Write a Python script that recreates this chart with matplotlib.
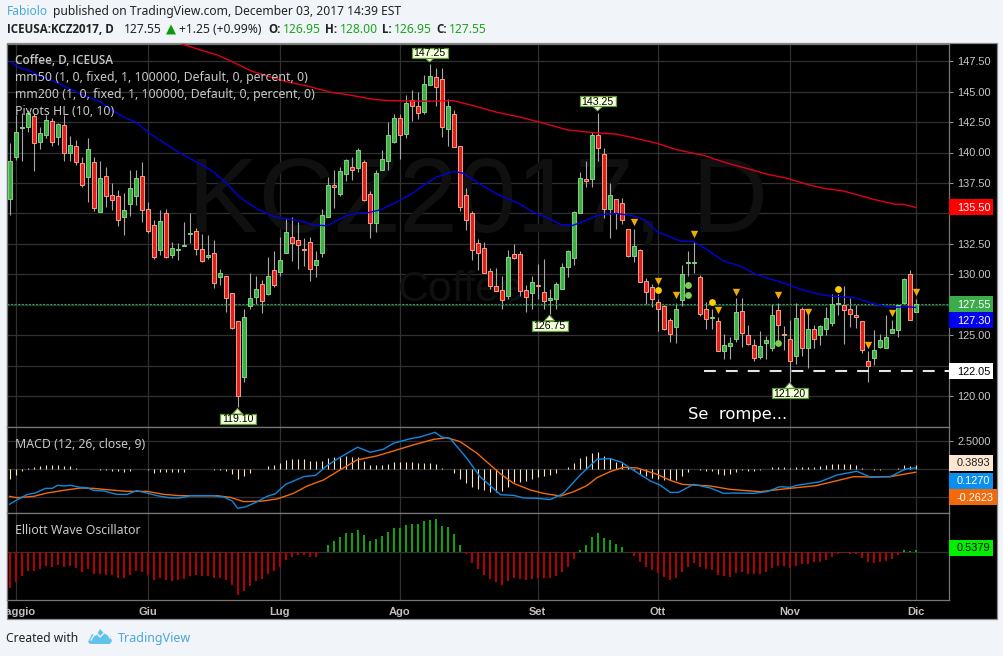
import matplotlib
matplotlib.use("Agg")
import matplotlib.pyplot as plt
from matplotlib.patches import Rectangle, Polygon
from matplotlib.transforms import Bbox, TransformedBbox, IdentityTransform

W, H = 1004, 656

opens = [136.2,139.65,142.0,142.05,143.0,140.9,141.45,142.55,141.3,142.25,
140.0,140.5,139.1,138.0,139.2,135.15,138.1,136.55,136.4,134.75,
135.8,136.45,138.1,135.4,134.05,132.0,135.0,131.6,132.0,132.3,
133.35,133.6,132.05,131.4,131.8,129.8,129.85,128.45,126.15,121.6,
127.4,128.15,129.2,128.4,130.35,130.2,131.8,133.1,132.8,132.1,
132.65,130.8,131.8,134.75,137.3,136.6,138.2,138.8,138.75,139.25,
136.6,134.25,138.6,139.3,140.9,142.8,141.55,144.3,143.8,143.3,
145.5,146.15,146.05,141.95,143.15,140.5,136.55,135.0,132.55,132.15,
130.25,129.05,128.7,128.25,131.7,131.7,128.7,128.5,129.1,128.6,
127.95,128.0,128.85,130.65,131.35,135.05,137.85,137.8,141.4,139.85,
135.4,136.2,135.85,133.7,131.55,132.0,129.5,128.95,127.75,127.4,
126.25,125.7,127.95,130.95,130.95,129.8,127.2,126.4,126.15,123.75,
124.15,124.7,127.0,125.05,124.25,123.25,124.4,124.0,127.05,125.1,
124.75,123.35,127.15,123.95,125.5,125.05,125.5,126.05,127.55,127.5,
127.15,126.7,126.15,122.95,123.15,124.05,124.0,125.2,125.45,127.65,
130.0,126.95]
closes = [139.3,141.7,142.1,143.2,140.8,141.6,142.7,140.9,142.35,140.0,
140.65,139.25,137.3,140.25,135.45,137.95,136.45,136.1,134.5,135.3,
137.05,137.9,135.25,133.6,131.45,134.35,131.45,132.15,132.1,132.4,
133.4,132.1,131.1,131.6,129.3,130.1,128.1,125.6,120.05,126.55,
128.05,128.85,127.85,129.85,129.15,131.15,133.45,132.6,132.45,132.0,
130.45,131.15,134.85,137.3,137.2,138.45,139.35,138.6,140.2,136.1,
134.25,138.35,139.5,141.4,142.8,141.4,144.05,143.85,143.2,145.6,
146.3,145.4,142.05,143.85,140.45,135.55,134.5,132.0,131.75,130.15,
129.05,128.65,127.95,131.4,131.35,128.65,128.15,129.35,129.05,127.85,
128.05,129.2,130.65,131.9,135.1,137.9,137.7,141.4,140.4,135.4,
136.55,135.0,134.5,131.55,132.3,129.35,128.55,128.0,127.2,125.5,
125.15,127.2,130.0,131.0,131.0,126.8,126.35,126.5,123.75,124.2,
124.35,126.9,125.2,124.3,123.15,124.15,124.65,126.65,125.9,125.0,
122.95,126.4,123.95,125.55,124.75,125.75,126.4,127.55,127.65,127.05,
126.75,126.55,123.85,122.5,123.85,124.6,124.85,125.55,127.5,129.6,
126.3,127.55]
highs = [140.8,143.1,143.2,143.5,143.2,142.1,143.05,142.8,142.45,143.05,
141.35,141.0,139.65,141.15,139.65,139.3,138.85,137.5,136.9,136.7,
138.55,138.55,139.25,135.95,134.45,135.3,135.4,132.65,132.55,134.3,
135.0,133.85,133.35,133.25,132.8,130.45,129.85,128.45,126.15,127.15,
130.1,129.85,129.55,131.45,131.9,133.1,134.6,134.7,134.3,133.0,
133.1,131.95,135.4,138.0,138.55,138.85,139.5,139.65,140.4,139.4,
136.85,138.55,140.2,142.5,143.15,143.15,144.7,145.1,145.0,146.35,
147.25,146.95,146.95,144.35,143.5,140.5,137.05,135.2,132.9,132.7,
130.55,130.5,129.85,132.0,132.5,131.95,129.1,129.85,130.9,131.25,
128.85,129.4,130.95,132.0,135.2,138.4,139.3,141.7,143.25,140.4,
137.5,136.2,136.25,133.7,133.7,132.1,129.75,129.2,128.0,127.5,
126.4,127.7,130.75,131.9,132.7,129.95,127.75,127.15,126.5,125.1,
124.9,128.1,128.05,125.85,124.75,125.35,124.95,127.55,127.65,125.8,
126.25,127.65,127.35,127.15,125.85,125.9,127.35,128.4,128.4,129.05,
128.1,127.5,126.2,123.7,125.45,125.1,126.65,126.3,127.5,129.7,
130.35,128.0]
lows = [134.9,139.4,139.3,141.7,138.5,140.25,141.2,140.55,140.6,139.3,
139.3,139.0,137.2,135.95,135.2,135.15,135.55,135.3,134.0,133.25,
134.8,135.7,134.3,133.4,131.3,131.6,131.35,131.35,131.2,132.3,
132.55,131.6,131.05,131.3,128.9,129.15,126.95,125.5,119.1,121.2,
127.2,127.6,126.85,128.3,129.0,129.85,131.8,131.1,130.45,130.7,
129.45,129.8,131.45,134.7,135.45,136.45,137.7,137.75,138.4,136.05,
133.0,133.5,138.55,138.55,140.75,139.45,141.2,142.6,142.75,143.15,
145.5,143.85,141.3,140.55,140.45,135.2,133.65,131.2,130.4,130.1,
128.85,128.65,127.2,128.0,131.3,128.2,126.95,127.2,128.0,127.2,
126.75,127.2,128.85,129.8,130.8,135.05,137.2,137.2,139.3,134.6,
133.0,133.7,134.1,131.45,131.0,129.35,127.55,127.35,125.4,125.45,
124.5,124.4,127.45,129.9,130.15,126.6,125.55,125.5,123.75,123.1,
123.1,124.5,124.05,124.25,122.95,123.1,123.1,123.75,124.5,123.85,
121.2,122.65,123.35,122.35,123.95,124.25,125.0,125.8,126.65,124.3,
125.7,125.65,123.6,121.2,122.6,124.0,124.0,125.2,124.9,127.65,
126.3,126.95]

ma50_idx = [0,1.8,3.4,5.1,6.8,9.5,12.3,15.1,17,19,21,23.4,25.1,28.4,31.8,34,36.2,38.2,39.3,
41.2,44,46.2,48.4,50.7,52.9,56.2,58.4,59.6,61.8,64.6,67.3,69,71.2,74,75.6,78.4,81.8,84.6,
87.3,89.6,91.8,93.7,96.2,98.2,101.2,104,106,107.9,111.8,114,116.2,119,121.8,124,126.2,
128.4,130.7,132.4,135.2,137.4,140.8,143.6,146.9,149.7,151]
ma50 = [147.45,146.9,146.7,146.25,145.95,145.35,144.7,144.15,143.5,142.9,142.5,141.55,141.0,
139.95,139.05,138.4,137.45,136.4,136.0,135.4,134.75,134.55,134.4,134.05,134.0,134.85,135.05,
135.05,135.3,135.95,136.7,137.3,138.0,138.45,138.3,137.4,136.45,135.9,135.1,134.65,134.1,
134.0,134.45,134.9,135.0,134.8,134.45,133.5,132.75,132.7,132.05,131.1,130.7,130.1,129.7,
129.4,129.0,128.7,128.35,128.2,128.1,127.65,127.3,127.35,127.3]

ma200_idx = [26,28.7,31.8,34.6,37.3,40.2,43,46.2,49.6,53.4,56.2,60.7,63.4,69.6,74,76.8,81.2,
85.1,89,93,96.8,101.2,105.1,107.9,111.2,115.7,119.6,123.4,126.2,129.6,132.9,135.7,139,
141.8,144,147.4,149,151]
ma200 = [149.5,148.9,148.4,148.0,147.4,146.7,146.25,145.8,145.45,144.95,144.75,144.35,144.25,
144.2,144.25,143.9,143.3,142.9,142.4,141.85,141.65,141.5,141.08,140.75,140.23,139.76,139.13,
138.62,138.23,137.88,137.39,137.06,136.84,136.46,136.16,135.77,135.75,135.5]

macd_idx = [0,1.2,2.9,4.3,6,7.1,8,9,10.1,11.8,12.9,14,15.7,17.9,19.6,21.2,22.9,24.6,26.8,28.4,
30.1,34,35.7,37.1,38,39.3,41.2,42.9,44.3,46,47.3,49,51,52.9,55.1,58,60.1,62.3,64,66.8,68.4,
70.9,72,73.4,76.2,78.4,81.8,84,85.7,87.9,90.1,92.3,95.1,97.9,100.1,102,103.9,106.8,108.4,
110.1,111.5,114,116.8,119,120.7,124,126.2,128.4,130.1,131.2,133.4,135.1,137.9,141.2,143.4,
146.8,149.3,151]
macd = [-3.14,-2.75,-2.27,-2.12,-1.71,-1.71,-1.44,-1.5,-1.44,-1.62,-1.65,-1.89,-1.95,-2.25,-2.25,
-1.92,-2.13,-2.37,-2.57,-2.57,-2.37,-2.37,-2.49,-2.84,-3.5,-3.38,-2.93,-2.43,-2.19,-1.35,-1.05,
-0.66,-0.54,0.33,1.08,1.98,1.53,1.8,2.34,2.75,2.9,3.32,2.9,2.78,0.99,-0.66,-2.28,-2.34,-2.57,
-2.6,-2.72,-2.16,-0.51,0.9,0.96,0.63,-0.06,-1.05,-1.41,-2.07,-2.07,-1.35,-1.68,-2.16,-2.13,
-2.16,-2.01,-1.56,-1.62,-1.44,-1.26,-1.11,-0.51,-0.18,-0.69,-0.66,0.03,0.127]

signal_idx = [0,1.2,4,6.2,9,11.8,14,16.2,19.6,22.9,25.7,28.4,34.6,36.8,39,41.8,44.6,47.3,49.6,
52.3,54.6,57.9,61.2,64,67.3,70.7,72.9,75.1,77.9,81.8,84,86.8,89,91.8,94,96.2,97.9,100.1,
102.3,104.6,107.9,110.1,112.1,116.8,120.1,125.1,129,134.4,137.9,140.7,143.4,146.8,149.3,151]
signal = [-2.43,-2.55,-2.43,-2.13,-1.89,-1.68,-1.71,-1.83,-1.98,-1.98,-2.25,-2.37,-2.37,-2.52,
-2.9,-2.87,-2.66,-2.16,-1.5,-0.96,-0.21,0.84,1.2,1.65,2.19,2.69,2.84,2.48,1.44,-0.4,-1.26,
-1.86,-2.16,-2.4,-2.01,-1.47,-0.75,-0.21,0.18,0.12,-0.45,-0.99,-1.35,-1.5,-1.8,-2.01,-1.77,
-1.47,-1.02,-0.66,-0.69,-0.66,-0.42,-0.262]

hist = [-.84,-.51,-.12,.09,.21,.30,.39,.39,.39,.33,.30,.15,
0,.03,.06,-.03,-.06,-.12,-.18,-.21,-.12,.03,0,-.09,
-.3,-.21,-.24,-.27,-.27,-.21,0,0,0,0,
-.06,-.09,-.15,-.39,-.84,-.6,-.33,0,.03,.3,.39,.57,.87,.93,.93,.93,.75,.75,.75,1.05,1.11,1.14,
1.2,1.11,1.11,.75,.39,.39,.39,.48,.66,.66,.66,.66,.6,.6,.6,.48,.12,.03,-.3,-.87,-1.2,-1.59,
-1.77,-1.89,-2.01,-2.01,-1.95,-1.56,-1.11,-1.11,-1.05,-.87,-.69,-.6,-.51,-.3,0,.24,.6,1.05,
1.2,1.44,1.56,1.23,1.05,.69,.54,.18,-.09,-.42,-.57,-.75,-.9,-.99,-.99,-.96,-.57,-.21,0,-.06,
-.15,-.12,-.42,-.51,-.42,-.21,-.09,-.12,-.18,-.09,0,.18,.24,.24,.15,.21,.21,.21,.21,.3,.39,
.48,.48,.48,.48,.39,.15,0,-.06,-.06,0,.03,.12,.36,.33,.39]

ewo = [-8.14,-6.76,-5.38,-4.22,-4.22,-3.76,-3.15,-3.30,-2.92,-3.38,-3.15,-3.53,-4.45,-3.84,-4.92,
-4.99,-5.22,-5.30,-5.84,-5.91,-5.22,-4.22,-4.53,-5.22,-6.37,-5.91,-6.37,-6.53,-6.37,-6.14,-5.45,
-5.22,-5.38,-5.53,-5.84,-5.91,-6.37,-7.53,-9.83,-8.83,-7.76,-6.53,-6.14,-4.99,-4.22,-3.30,-1.77,
-1.08,-.61,-.61,-1.0,-1.0,.08,1.69,2.61,3.53,4.45,4.53,5.15,3.99,2.69,3.07,3.76,4.68,5.61,5.68,
6.30,6.53,6.53,7.22,7.45,7.68,6.07,5.84,4.22,1.69,-.31,-2.38,-3.76,-5.15,-6.07,-6.76,-7.53,-6.60,
-5.91,-6.07,-6.37,-6.14,-5.91,-5.91,-5.91,-5.45,-4.53,-3.30,-1.54,.54,1.69,3.53,4.45,3.30,2.84,
1.92,1.23,0,-.77,-2.23,-3.38,-4.07,-4.76,-5.68,-6.37,-5.91,-4.53,-3.38,-2.46,-3.38,-3.84,-4.07,
-5.22,-5.45,-5.68,-4.76,-4.53,-4.92,-4.99,-4.99,-4.53,-3.61,-3.15,-3.15,-3.61,-3.15,-2.69,-2.69,
-2.23,-2.23,-1.77,-1.08,-.31,-.15,-.38,-.31,-1.31,-2.23,-2.46,-2.23,-2.0,-1.54,-.61,.54,.31,.54]

month_idx = [1, 23, 45, 65, 88, 108, 130, 151]
month_labels = ["Maggio", "Giu", "Lug", "Ago", "Set", "Ott", "Nov", "Dic"]
price_ticks = [120, 122.5, 125, 127.5, 130, 132.5, 135, 137.5, 140, 142.5, 145, 147.5]
price_tick_labels = ["120.00", "", "125.00", "", "130.00", "132.50", "", "137.50", "140.00", "142.50", "145.00", "147.50"]

pivot_high_idx = [70, 98]
pivot_high = [147.25, 143.25]
pivot_low_idx = [38, 90, 130]
pivot_low = [119.10, 126.75, 121.20]
tri_idx = [104, 108, 111, 114, 118, 121, 128, 133, 143, 147, 151]
tri_price = [134.27, 129.45, 128.3, 133.3, 127.05, 128.6, 128.35, 126.95, 124.25, 126.85, 128.6]
gold_idx = [108, 117, 138]
gold_price = [128.7, 127.75, 128.85]
lime_idx = [113, 113, 128]
lime_price = [129.1, 128.3, 124.35]

last_price = 127.55
break_level = 122.05

BG = "#f1f4f8"
GRID = "#303030"
AXC = "#777777"
TXT = "#c8c8c8"
UI = "Noto Sans"
UI_BOLD = "Open Sans"
NUM = "Liberation Sans"

fig = plt.figure(figsize=(W / 100, H / 100), dpi=100, facecolor=BG)


def add_px_axes(x0, y0, x1, y1, **kw):
    return fig.add_axes([x0 / W, 1 - y1 / H, (x1 - x0) / W, (y1 - y0) / H], **kw)


# black backing of the whole widget
bg = add_px_axes(0, 0, W, H, zorder=-1)
bg.set_xlim(0, W)
bg.set_ylim(H, 0)
bg.axis("off")
bg.add_patch(Rectangle((7, 43), 990.5, 576, fc="black", ec="#8a8a8a", lw=0.9))

xlim = ((7 - 9.6) / 6, (949 - 9.6) / 6)
ax = add_px_axes(7, 44, 949, 427, facecolor="black")
ax2 = add_px_axes(7, 427, 949, 513, facecolor="black")
ax3 = add_px_axes(7, 513, 949, 600, facecolor="black")

ax.set_ylim(147.5 - (427 - 61) / 12.2, 147.5 + (61 - 44) / 12.2)
ax2.set_ylim(-(513 - 469.3) / 11.14, (469.3 - 427) / 11.14)
ax3.set_ylim(-(600 - 552.3) * 0.2304, (552.3 - 513) * 0.2304)

for a in (ax, ax2, ax3):
    a.set_xlim(*xlim)
    a.set_axisbelow(True)
    a.set_xticks(month_idx)
    a.grid(True, color=GRID, lw=0.9)
    for s in a.spines.values():
        s.set_color(AXC)
        s.set_linewidth(0.9)
    a.yaxis.tick_right()
    a.tick_params(axis="y", length=3, width=0.7, color="#999999", pad=3,
                  labelsize=7.9, labelcolor=TXT)
    a.tick_params(axis="x", length=0, labelbottom=False)

ax.set_yticks(price_ticks)
ax.set_yticklabels(price_tick_labels, family=NUM)
ax2.set_yticks([-2.5, 0, 2.5])
ax2.set_yticklabels(["", "", "2.5000"], family=NUM)
ax3.set_yticks([0])
ax3.set_yticklabels([""])

ax3.tick_params(axis="x", labelbottom=True, pad=5, labelsize=8, labelcolor="#c0c0c0")
ax3.set_xticklabels(month_labels, family=NUM, fontweight="bold")
clip = TransformedBbox(Bbox([[7, 0], [W, H]]), IdentityTransform())
ax3.get_xticklabels()[0].set_clip_box(clip)
ax3.get_xticklabels()[0].set_clip_on(True)

# watermark
ax.text(0.5, 0.582, "KCZ2017, D", transform=ax.transAxes, ha="center", va="center",
        fontsize=76, color="#101010", family=NUM, zorder=0.6)
ax.text(0.482, 0.358, "Coffee", transform=ax.transAxes, ha="center", va="center",
        fontsize=31, color="#101010", family=NUM, zorder=0.6)

# candles
idx = list(range(len(closes)))
ax.vlines(idx, lows, highs, color="#a8a8a8", lw=0.8, zorder=2)
for i in idx:
    up = closes[i] >= opens[i]
    ax.bar(i, max(abs(closes[i] - opens[i]), 0.05), bottom=min(opens[i], closes[i]), width=0.68,
           color="#3fae49" if up else "#df2020",
           edgecolor="#7fd47f" if up else "#f7a27e", linewidth=0.7, zorder=3)

ax.axhline(last_price, color="#1fa84a", lw=0.8, ls=(0, (2, 1.2)), zorder=2.5)
ax.plot(ma50_idx, ma50, color="#0000e0", lw=1.0, zorder=4)
ax.plot(ma200_idx, ma200, color="#e0001a", lw=1.0, zorder=4)
ax.hlines(break_level, (704 - 9.6) / 6, xlim[1], color="#e4e4e4", lw=1.5,
          linestyles=[(0, (5.7, 4.8))], zorder=5)
ax.scatter(tri_idx, tri_price, marker="v", s=28, color="#f0ac00", linewidths=0, zorder=6)
ax.scatter(gold_idx, gold_price, marker="o", s=24, color="#ffcc00", linewidths=0, zorder=6)
ax.scatter(lime_idx, lime_price, marker="o", s=24, color="#7ccf50", linewidths=0, zorder=6)

# MACD
ax2.vlines(idx, 0, hist, color="#ffe4c4", lw=0.8, zorder=2)
ax2.plot(signal_idx, signal, color="#f26a0a", lw=1.0, zorder=3)
ax2.plot(macd_idx, macd, color="#1088dd", lw=1.0, zorder=4)

# Elliott wave
ax3.bar(idx, ewo, width=0.36, linewidth=0,
        color=["#0ea30e" if v > 0 else "#b40000" for v in ewo], zorder=2)

# overlay for labels and page text
ov = add_px_axes(0, 0, W, H, zorder=10)
ov.set_xlim(0, W)
ov.set_ylim(H, 0)
ov.axis("off")
ov.patch.set_alpha(0)


def px(a, i):
    return a.transData.transform((i, 0))[0]


def py(a, v):
    return H - a.transData.transform((0, v))[1]


def tag(a, v, text, fc, tc, dy=0, x1=993):
    y = py(a, v) + dy
    ov.add_patch(Rectangle((949, y - 8), x1 - 949, 16, fc=fc, ec="none", zorder=3))
    ov.text(957, y + 0.3, text, color=tc, fontsize=7.9, family=NUM, ha="left", va="center", zorder=4)


tag(ax, 135.50, "135.50", "#ff0000", "white")
tag(ax, 127.55, "127.55", "#3cab4a", "white")
tag(ax, 127.30, "127.30", "#0000ee", "white", dy=13)
tag(ax, break_level, "122.05", "white", "black")
tag(ax2, 0.3893, "0.3893", "#ffe6d0", "#222222", dy=-2)
tag(ax2, 0.1270, "0.1270", "#0a8ff0", "white", dy=13)
tag(ax2, -0.2623, "-0.2623", "#f26a0a", "white", dy=25, x1=997)
tag(ax3, 0.5379, "0.5379", "#00f000", "black", dy=-2)


def pivot(i, v, high):
    x = px(ax, i)
    y = py(ax, v)
    cy = y - 11.5 if high else y + 11.5
    tip = y - 2 if high else y + 1
    edge = cy + 5 if high else cy - 5
    ov.add_patch(Polygon([(x - 5, edge), (x + 5, edge), (x, tip)], fc="#f4ffdc", ec="#6aa03c", lw=0.7, zorder=5))
    ov.add_patch(Rectangle((x - 18, cy - 5), 36, 10, fc="#f4ffdc", ec="#5f9a32", lw=0.9, zorder=6))
    ov.text(x, cy + 0.3, "%.2f" % v, ha="center", va="center", fontsize=7.6, family=NUM, color="black", zorder=7)


for i, v in zip(pivot_high_idx, pivot_high):
    pivot(i, v, True)
for i, v in zip(pivot_low_idx, pivot_low):
    pivot(i, v, False)

ov.text(688, 414.5, "Se  rompe...", color="white", fontsize=11.8, family="DejaVu Sans", va="center")

# indicator titles
ind = dict(color=TXT, fontsize=8.85, family=UI, va="center")
ov.text(15, 60.5, "Coffee, D, ICEUSA", color=TXT, fontsize=8.5, family=UI_BOLD, fontweight="semibold", va="center")
ov.text(15, 77.5, "mm50 (1, 0, fixed, 1, 100000, Default, 0, percent, 0)", **ind)
ov.text(15, 94.5, "mm200 (1, 0, fixed, 1, 100000, Default, 0, percent, 0)", **ind)
ov.text(15, 111.5, "Pivots HL (10, 10)", **ind)
ov.text(15, 445, "MACD (12, 26, close, 9)", **ind)
ov.text(15, 530.5, "Elliott Wave Oscillator", **ind)

# header
hd = dict(fontsize=8.7, family=UI, va="center", color="#222222")
bold = dict(fontsize=8.4, family=UI_BOLD, fontweight="bold", va="center", color="#222222")
ov.text(7, 11.5, "Fabiolo", **{**hd, "color": "#4aa8dc"})
ov.text(53, 11.5, "published on TradingView.com, December 03, 2017 14:39 EST", **hd)
ov.text(7, 29.5, "ICEUSA:KCZ2017, D", **bold)
ov.text(124, 29.5, "127.55", **hd)
ov.add_patch(Polygon([(166, 34.5), (176, 34.5), (171, 24.5)], fc="#0a9a0a", ec="none"))
ov.text(179, 29.5, "+1.25 (+0.99%)", **hd)
for x, s in [(268, "O:"), (325, "H:"), (382, "L:"), (436, "C:")]:
    ov.text(x, 29.5, s, **bold)
for x, s in [(283, "126.95"), (340, "128.00"), (394, "126.95"), (449, "127.55")]:
    ov.text(x, 29.5, s, **{**hd, "color": "#1aa51a"})

# footer
ov.text(6, 638.5, "Created with", **hd)
ov.text(118, 638.5, "TradingView", **{**hd, "color": "#4aa8dc", "fontsize": 9.0})
ov.add_patch(Polygon([(88, 642), (92, 634), (96, 636), (100, 629), (105, 634), (110, 636), (112, 641), (110, 644), (90, 644)],
                     fc="#62c3ea", ec="none"))
ov.plot([91, 96, 100, 106, 110], [640, 632, 637, 631, 638], color=BG, lw=1.0)

fig.savefig("out.png", dpi=100, facecolor=BG)
